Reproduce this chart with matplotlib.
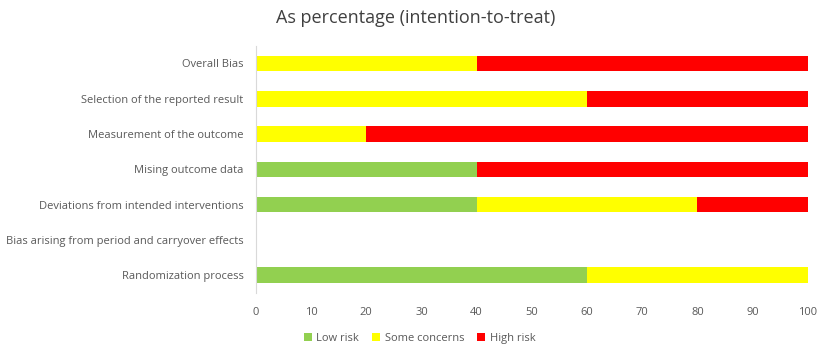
import numpy as np
import matplotlib.pyplot as plt

plt.rcParams['font.family'] = ['Open Sans', 'DejaVu Sans']

domains = ['Randomization process',
           'Bias arising from period and carryover effects',
           'Deviations from intended interventions',
           'Mising outcome data',
           'Measurement of the outcome',
           'Selection of the reported result',
           'Overall Bias']
low_risk = [60, 0, 40, 40, 0, 0, 0]
some_concerns = [40, 0, 40, 0, 20, 60, 40]
high_risk = [0, 0, 20, 60, 80, 40, 60]

fig = plt.figure(figsize=(8.31, 3.58), dpi=100)
ax = fig.add_axes([0.308, 0.182, 0.664, 0.69])

y = np.arange(len(domains))
low = np.array(low_risk)
some = np.array(some_concerns)
high = np.array(high_risk)
h = 0.44
ax.barh(y, low, height=h, color='#92D050', label='Low risk')
ax.barh(y, some, left=low, height=h, color='#FFFF00', label='Some concerns')
ax.barh(y, high, left=low + some, height=h, color='#FF0000', label='High risk')

ax.set_xlim(0, 100)
ax.set_ylim(-0.5, len(domains) - 0.5)
ax.set_xticks(np.arange(0, 101, 10))
ax.set_yticks(y)
ax.set_yticklabels(domains)
ax.tick_params(axis='both', length=0, labelsize=8, colors='#595959')
ax.tick_params(axis='y', pad=9)
ax.tick_params(axis='x', pad=10)
for s in ['top', 'right', 'bottom']:
    ax.spines[s].set_visible(False)
ax.spines['left'].set_color('#D9D9D9')

fig.text(0.5, 0.95, 'As percentage (intention-to-treat)', ha='center', va='center',
         fontsize=13, color='#404040')
handles, labels = ax.get_legend_handles_labels()
fig.legend(handles, labels, loc='center', bbox_to_anchor=(0.505, 0.055), ncol=3,
           frameon=False, fontsize=8, handlelength=0.7, handleheight=0.7,
           handletextpad=0.4, columnspacing=1.2, labelcolor='#595959')

fig.savefig('out.png', dpi=100)
